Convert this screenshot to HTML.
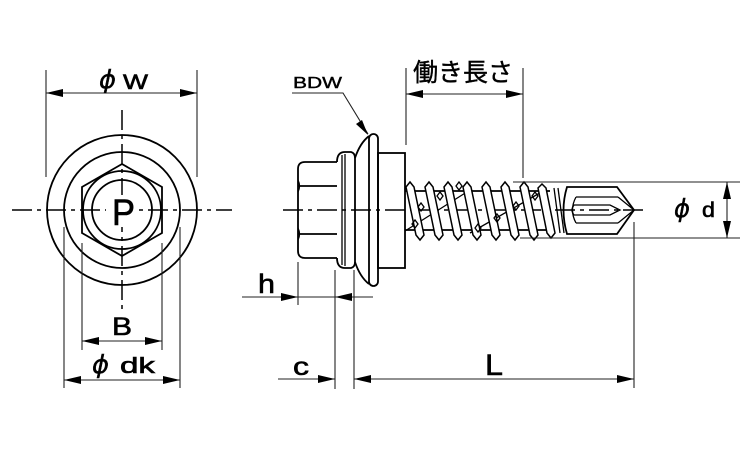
<!DOCTYPE html>
<html><head><meta charset="utf-8"><style>
html,body{margin:0;padding:0;background:#fff;}
svg{display:block;}
</style></head><body>
<svg width="750" height="450" viewBox="0 0 750 450" xmlns="http://www.w3.org/2000/svg">
<defs>
<style>
.o{fill:none;stroke:#000;stroke-width:1.8;}
.t{fill:none;stroke:#000;stroke-width:1.3;}
.d{fill:none;stroke:#222;stroke-width:1.1;}
.c{fill:none;stroke:#000;stroke-width:1.5;stroke-dasharray:20,5,4,5;}
.a{fill:#000;stroke:none;}
.f{font-family:"Liberation Sans",sans-serif;fill:#000;stroke:#000;stroke-width:0.6;}
.p{font-family:"DejaVu Sans",sans-serif;font-style:oblique;fill:#000;stroke:#000;stroke-width:0.4;}
.j{font-family:"Liberation Sans","Noto Sans CJK JP",sans-serif;fill:#000;stroke:#000;stroke-width:0.4;}
</style>
</defs>

<!-- ===== LEFT VIEW ===== -->
<circle class="o" cx="122" cy="210" r="75"/>
<circle class="o" cx="122" cy="210" r="58"/>
<polygon class="o" points="122,164 162,187 162,233 122,256 82,233 82,187"/>
<circle class="o" cx="122" cy="210" r="39"/>
<circle class="o" cx="122" cy="210" r="30"/>
<line class="c" x1="12" y1="210" x2="232" y2="210"/>
<line class="c" x1="122" y1="110" x2="122" y2="310"/>
<rect x="106" y="195" width="32" height="32" fill="#fff"/>
<text class="f" x="112" y="225" font-size="37" textLength="23" lengthAdjust="spacingAndGlyphs">P</text>

<!-- phi W -->
<line class="d" x1="46" y1="70" x2="46" y2="177"/>
<line class="d" x1="197" y1="70" x2="197" y2="177"/>
<line class="d" x1="46" y1="93" x2="197" y2="93"/>
<polygon class="a" points="46,93 63,89 63,97"/>
<polygon class="a" points="197,93 180,89 180,97"/>
<text class="p" x="99" y="88" font-size="25" textLength="17" lengthAdjust="spacingAndGlyphs">ϕ</text>
<text class="f" x="123" y="89" font-size="21" textLength="25" lengthAdjust="spacingAndGlyphs">W</text>

<!-- B -->
<line class="d" x1="82" y1="243" x2="82" y2="350"/>
<line class="d" x1="162" y1="243" x2="162" y2="350"/>
<line class="d" x1="82" y1="341" x2="162" y2="341"/>
<polygon class="a" points="82,341 99,337 99,345"/>
<polygon class="a" points="162,341 145,337 145,345"/>
<text class="f" x="112" y="335" font-size="25" textLength="20" lengthAdjust="spacingAndGlyphs">B</text>

<!-- phi dk -->
<line class="d" x1="64" y1="227" x2="64" y2="388"/>
<line class="d" x1="180" y1="227" x2="180" y2="388"/>
<line class="d" x1="64" y1="380" x2="180" y2="380"/>
<polygon class="a" points="64,380 81,376 81,384"/>
<polygon class="a" points="180,380 163,376 163,384"/>
<text class="p" x="92" y="373" font-size="25" textLength="17" lengthAdjust="spacingAndGlyphs">ϕ</text>
<text class="f" x="120" y="373" font-size="22" textLength="35" lengthAdjust="spacingAndGlyphs">dk</text>

<!-- ===== SIDE VIEW ===== -->
<line class="c" x1="283" y1="210" x2="645" y2="210"/>

<!-- hex head -->
<path class="o" d="M337,162 L305,162 Q298,162 298,169 L298,251 Q298,258 305,258 L337,258"/>
<line class="o" x1="298" y1="186" x2="337" y2="186"/>
<line class="o" x1="298" y1="234" x2="337" y2="234"/>
<path class="t" d="M298,180 Q301,186 298,192 M298,228 Q301,234 298,240"/>

<!-- flange -->
<path class="o" d="M337,162 C337,156 339,152 345,152 L351,152 Q355,153 355,158 L355,262 Q355,267 351,268 L345,268 C339,268 337,264 337,258"/>
<line class="t" x1="342" y1="155" x2="342" y2="265"/>
<line class="t" x1="345" y1="154" x2="345" y2="266"/>
<path class="o" d="M355,158 Q360,143 369,136"/>
<path class="o" d="M355,262 Q360,277 369,284"/>
<rect class="o" x="369" y="134" width="9" height="152" rx="4.5"/>
<rect class="o" x="378" y="153" width="27" height="115"/>

<!-- thread body -->
<line class="o" x1="405" y1="191" x2="550" y2="191"/>
<line class="o" x1="405" y1="230" x2="550" y2="230"/>
<line class="t" x1="405" y1="231" x2="470" y2="190"/>
<line class="t" x1="470" y1="233" x2="545" y2="190"/>
<g style="fill:#fff;stroke:#000;stroke-width:1.5">
<polygon points="406,187 410,182 414,187 424,235 420,240 416,235"/>
<polygon points="425,187 429,182 433,187 443,235 439,240 435,235"/>
<polygon points="444,187 448,182 452,187 462,235 458,240 454,235"/>
<polygon points="463,187 467,182 471,187 481,235 477,240 473,235"/>
<polygon points="482,187 486,182 490,187 500,235 496,240 492,235"/>
<polygon points="501,187 505,182 509,187 519,235 515,240 511,235"/>
<polygon points="520,187 524,182 528,187 538,235 534,240 530,235"/>
<polygon points="538,188 542,184 546,188 555,233 551,238 547,233"/>
</g>
<g class="t">
<path d="M418,207 l3,-4 l3,4 l-3,4 z M437,196 l3,-4 l3,4 l-3,4 z M456,186 l3,-4 l3,4 l-3,4 z M412,224 l3,-4 l3,4 l-3,4 z"/>
<path d="M475,228 l3,-4 l3,4 l-3,4 z M494,218 l3,-4 l3,4 l-3,4 z M513,206 l3,-4 l3,4 l-3,4 z M532,196 l3,-4 l3,4 l-3,4 z"/>
</g>
<line class="t" x1="554" y1="188" x2="560" y2="233"/>
<line class="t" x1="558" y1="188" x2="564" y2="233"/>

<!-- drill point -->
<path class="o" d="M567,187 L617,187 L634,210 L617,234 L567,234 Q560,210 567,187 Z"/>
<line class="t" x1="576" y1="197" x2="618" y2="197"/>
<line class="t" x1="576" y1="223" x2="618" y2="223"/>
<line class="t" x1="618" y1="197" x2="634" y2="210"/>
<line class="t" x1="618" y1="223" x2="634" y2="210"/>
<path class="t" d="M576,197 Q569,210 576,223"/>
<path class="t" d="M574,205 L610,205 L620,210 L610,215 L574,215 Q570,210 574,205 Z"/>

<!-- BDW leader -->
<text class="f" x="293" y="88" font-size="16" textLength="49" lengthAdjust="spacingAndGlyphs" style="stroke-width:0.4">BDW</text>
<polyline class="d" points="292,93 343,93 368,134"/>
<polygon class="a" points="368,135 356,124 362,120"/>

<!-- 働き長さ -->
<line class="d" x1="406" y1="68" x2="406" y2="145"/>
<line class="d" x1="523" y1="68" x2="523" y2="178"/>
<line class="d" x1="406" y1="94" x2="523" y2="94"/>
<polygon class="a" points="406,94 423,90 423,98"/>
<polygon class="a" points="523,94 506,90 506,98"/>
<text class="j" x="413" y="81" font-size="25" textLength="100" lengthAdjust="spacingAndGlyphs">働き長さ</text>

<!-- phi d -->
<line class="d" x1="513" y1="182" x2="740" y2="182"/>
<line class="d" x1="520" y1="238" x2="740" y2="238"/>
<line class="d" x1="727" y1="182" x2="727" y2="238"/>
<polygon class="a" points="727,182 723,199 731,199"/>
<polygon class="a" points="727,238 723,221 731,221"/>
<text class="p" x="674" y="217" font-size="25" textLength="16" lengthAdjust="spacingAndGlyphs">ϕ</text>
<text class="f" x="702" y="217" font-size="21" textLength="13" lengthAdjust="spacingAndGlyphs">d</text>

<!-- h -->
<line class="d" x1="298" y1="262" x2="298" y2="305"/>
<line class="d" x1="335" y1="270" x2="335" y2="389"/>
<line class="d" x1="354" y1="270" x2="354" y2="389"/>
<line class="d" x1="242" y1="297" x2="373" y2="297"/>
<polygon class="a" points="298,297 281,293 281,301"/>
<polygon class="a" points="335,297 352,293 352,301"/>
<text class="f" x="258" y="293" font-size="27" textLength="17" lengthAdjust="spacingAndGlyphs">h</text>

<!-- c and L -->
<line class="d" x1="634" y1="222" x2="634" y2="388"/>
<line class="d" x1="278" y1="379" x2="335" y2="379"/>
<polygon class="a" points="335,379 318,375 318,383"/>
<line class="d" x1="354" y1="379" x2="634" y2="379"/>
<polygon class="a" points="354,379 371,375 371,383"/>
<polygon class="a" points="634,379 617,375 617,383"/>
<text class="f" x="293" y="375" font-size="25" textLength="16" lengthAdjust="spacingAndGlyphs">c</text>
<text class="f" x="485" y="375" font-size="30" textLength="18" lengthAdjust="spacingAndGlyphs">L</text>
</svg>
</body></html>
